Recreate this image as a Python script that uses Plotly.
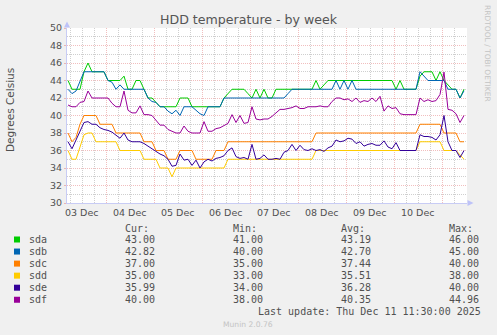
import plotly.graph_objects as go
from datetime import datetime, timedelta

# ---- data: HDD temperatures, one sample every 2 hours from Dec 3 05:00 ----
start_time = datetime(2025, 12, 3, 5, 0)
step_hours = 2

disks = ["sda", "sdb", "sdc", "sdd", "sde", "sdf"]
colors = ["#00CC00", "#0066B3", "#FF8000", "#FFCC00", "#330099", "#990099"]

sda = [44, 43, 43, 43, 45, 46, 45, 45, 45, 45,
       44, 44, 44, 44, 44.5, 43, 43, 44, 44, 43,
       42, 42, 41.5, 41, 41, 41, 41, 41, 42, 42,
       42, 41, 41, 41, 41, 41, 41, 41, 41, 42,
       42.5, 43, 43, 43, 43, 42.5, 42, 43, 42, 43,
       42, 42, 43, 43, 43, 43, 43, 43, 43, 43,
       43, 43, 44, 43, 43.5, 44, 44, 44, 44, 44,
       44, 44, 44, 44, 44, 44, 44, 44, 44, 44,
       44, 44, 43, 44, 43, 43, 43, 43, 44.5, 45,
       45, 45, 44, 45, 44, 43.5, 43, 43, 42, 43]

sdb = [43, 42.5, 42.8, 44, 45, 45, 45, 45, 45, 45,
       44, 43.8, 43, 43.5, 43, 43, 43, 43, 43, 43,
       42, 41.6, 41.5, 41, 41, 40.5, 40.2, 40.6, 40, 41,
       41, 41, 40.6, 40.2, 40, 41, 41, 41, 41, 42,
       42, 42, 42, 42, 42, 42, 42, 42, 42, 42,
       42, 42, 42, 42, 42, 42.5, 43, 43, 43, 43,
       43, 43, 43, 43, 43, 43, 43, 44, 43, 44,
       43, 44, 43, 43, 43, 43, 43, 43, 43, 43,
       43, 43, 43, 43, 43, 43, 43, 43, 45, 44.5,
       44, 44, 44, 44, 44, 43, 43, 43, 42, 42.82]

sdc = [38, 37, 37.5, 39, 40, 40, 40, 40, 39, 39,
       39, 39, 38, 38, 38, 38, 38, 38, 38, 37,
       37, 37, 36, 36, 36, 35, 35, 35, 36, 36,
       36, 36, 35, 35, 35, 35, 35, 36, 36, 36,
       37, 37, 37, 37, 37, 37, 37, 37, 37, 37,
       37, 37, 37, 37, 37, 37, 37, 37, 37, 37,
       37, 37, 38, 38, 38, 38, 38, 38, 38, 38,
       38, 38, 38, 38, 38, 38, 38, 38, 38, 38,
       38, 38, 38, 38, 38, 38, 38, 38, 39, 39,
       39, 39, 39, 39, 38, 38, 38, 38, 37, 37]

sdd = [36, 35, 35, 36.5, 37.8, 38, 38, 37, 37, 37,
       37, 37, 37, 36, 36, 36, 36, 36, 36, 35,
       35, 35, 35, 34, 34, 34, 33, 34, 34, 34,
       34, 34, 34, 34, 34, 34, 34, 34, 34, 34,
       35, 35, 35, 35, 35, 35, 35, 35, 35, 35,
       35, 35, 35, 35, 35, 35, 35, 35, 35, 35,
       35, 35, 36, 36, 36, 36, 36, 36, 36, 36,
       36, 36, 36, 36, 36, 36, 36, 36, 36, 36,
       36, 36, 36, 36, 36, 36, 36, 36, 37, 37,
       37, 37, 37, 37, 36, 36, 36, 36, 35.5, 35]

sde = [37, 36.2, 37.2, 38.2, 39.2, 39.3, 39, 39, 38.6, 38.4,
       38.3, 38.1, 37.8, 37.4, 38, 37.2, 37, 37, 37, 36.8,
       36.5, 36.2, 35.8, 35.6, 35.4, 35, 34.2, 34.3, 35.6, 34.9,
       35, 34.3, 34.9, 34, 34.7, 35, 34.8, 35.1, 35.2, 35.4,
       36, 36.3, 35.3, 35.1, 35.2, 35, 36.7, 35, 35.1, 35.5,
       35, 35, 35.1, 35, 35.8, 36, 36.7, 36, 36.6, 36.1,
       36, 36.2, 36, 36.1, 35.9, 36.3, 36.5, 37.2, 37, 37.1,
       37.4, 37.3, 36.8, 37, 36.5, 36.7, 36.8, 36.6, 36.6, 37.1,
       36.4, 36.2, 36.9, 36, 36, 36, 36, 36, 37.8, 37.6,
       37.6, 37.5, 37.2, 37.8, 40, 37, 36, 36, 35.2, 35.99]

sdf = [41.2, 41, 41, 41.5, 41.6, 42.8, 42, 42, 42, 42,
       42, 41.4, 41, 41, 42.8, 40.6, 40.3, 40.3, 41.1, 40.1,
       40.1, 40, 39.5, 38.9, 38.9, 38.4, 38.2, 38, 38, 38.8,
       38.2, 38, 38, 38, 39.3, 38.2, 38.2, 38.5, 38.6, 38.9,
       39.1, 40.1, 39.2, 40, 39.1, 39.2, 41, 39.6, 39.5, 39.6,
       39.6, 39.9, 40.3, 40.7, 40.7, 40.8, 40.9, 41.1, 40.8, 40.8,
       41, 41, 41, 41.1, 41, 41, 41.6, 42, 42, 41.8,
       41.9, 41.6, 42, 41.5, 41.7, 41.6, 42, 41.6, 42.2, 40.5,
       41.1, 40.8, 40.9, 40.2, 40.1, 40.1, 40.1, 40.1, 42, 41.6,
       41.8, 41.6, 41.7, 42.4, 44.96, 40.7, 40.6, 40.2, 39.2, 40]

series = [sda, sdb, sdc, sdd, sde, sdf]

# day labels, each written at the middle of its day
day_labels = ["03 Dec", "04 Dec", "05 Dec", "06 Dec",
              "07 Dec", "08 Dec", "09 Dec", "10 Dec"]
first_day = datetime(2025, 12, 3)

# summary table shown under the graph
cur_vals = [43.00, 42.82, 37.00, 35.00, 35.99, 40.00]
min_vals = [41.00, 40.00, 35.00, 33.00, 34.00, 38.00]
avg_vals = [43.19, 42.70, 37.44, 35.51, 36.28, 40.35]
max_vals = [46.00, 45.00, 40.00, 38.00, 40.00, 44.96]

last_update = "Last update: Thu Dec 11 11:30:00 2025"

times = [start_time + timedelta(hours=step_hours * i) for i in range(len(sda))]

# ---- geometry of the canvas ----
W, H = 497, 335
L, R, T, B = 67, 30, 28, 132
PW, PH = W - L - R, H - T - B


def px(x):
    return (x - L) / PW


def py(y):
    return (T + PH - y) / PH


axis_color = "#C8CCF5"
arrow_color = "#BDC2F8"
major_grid = "rgba(225,110,110,0.45)"
minor_grid = "rgba(140,140,140,0.42)"
text_color = "#505050"
mono = "DejaVu Sans Mono"
sans = "DejaVu Sans"

fig = go.Figure()
for name, color, vals in zip(disks, colors, series):
    fig.add_trace(go.Scatter(
        x=times, y=vals, mode="lines", name=name,
        line=dict(color=color, width=1), hoverinfo="skip",
    ))

x_start = datetime(2025, 12, 3, 4, 30)
x_end = datetime(2025, 12, 11, 12, 30)

fig.update_layout(
    width=W, height=H,
    margin=dict(l=L, r=R, t=T, b=B, pad=0),
    paper_bgcolor="#F0F0F0",
    plot_bgcolor="#FFFFFF",
    showlegend=False,
    xaxis=dict(
        type="date", range=[x_start, x_end],
        tick0="2025-12-03", dtick=86400000,
        showticklabels=False,
        showgrid=True, gridcolor=major_grid, griddash="1px,1px", gridwidth=1,
        minor=dict(tick0="2025-12-03", dtick=21600000, showgrid=True,
                   gridcolor=minor_grid, griddash="1px,1px", gridwidth=1),
        showline=True, linecolor=axis_color, linewidth=1,
        ticks="", zeroline=False,
    ),
    yaxis=dict(
        range=[30, 50], tick0=30, dtick=2,
        showgrid=True, gridcolor=major_grid, griddash="1px,1px", gridwidth=1,
        minor=dict(dtick=1, showgrid=True, gridcolor=minor_grid,
                   griddash="1px,1px", gridwidth=1),
        showline=True, linecolor=axis_color, linewidth=1,
        ticks="outside", ticklen=2, tickcolor=major_grid,
        zeroline=False,
        tickfont=dict(family=sans, size=9.5, color=text_color),
    ),
)

shapes = [
    # arrow heads at the ends of the axes
    dict(type="path", xref="paper", yref="paper", line=dict(width=0),
         fillcolor=arrow_color,
         path=f"M {px(64)} {py(27.5)} L {px(70)} {py(27.5)} L {px(67)} {py(21.5)} Z"),
    dict(type="path", xref="paper", yref="paper", line=dict(width=0),
         fillcolor=arrow_color,
         path=f"M {px(467.5)} {py(200)} L {px(467.5)} {py(206)} L {px(473.5)} {py(203)} Z"),
]

annotations = [
    dict(text="HDD temperature - by week", x=px(248.5), y=py(19),
         font=dict(family=sans, size=12.6, color="#555555")),
    dict(text="Degrees Celsius", x=px(10), y=py(110), textangle=-90,
         font=dict(family=sans, size=10.5, color=text_color)),
    dict(text="RRDTOOL / TOBI OETIKER", x=px(487.5), y=py(53.5), textangle=90,
         font=dict(family=sans, size=7.5, color="#C4C4C4")),
    dict(text="Munin 2.0.76", x=px(248), y=py(324.3),
         font=dict(family=sans, size=7.6, color="#C4C4C4")),
    dict(text=last_update, x=px(483), y=py(311.7), xanchor="right",
         font=dict(family=mono, size=10, color=text_color)),
]

# x axis labels at noon of each day
for i, lab in enumerate(day_labels):
    annotations.append(dict(text=lab, xref="x",
                            x=first_day + timedelta(days=i, hours=12),
                            y=py(212.3),
                            font=dict(family=sans, size=9.5, color=text_color)))

col_x = [122.5, 230.5, 339, 446.5]
for label, cx in zip(["Cur:", "Min:", "Avg:", "Max:"], col_x):
    annotations.append(dict(text=label, x=px(cx), y=py(228), xanchor="left",
                            font=dict(family=mono, size=10, color=text_color)))

row_y0, row_dy = 239.5, 12.05
for i, (name, color) in enumerate(zip(disks, colors)):
    ry = row_y0 + row_dy * i
    shapes.append(dict(type="rect", xref="paper", yref="paper",
                       x0=px(14), x1=px(20), y0=py(ry + 3), y1=py(ry - 3),
                       fillcolor=color, line=dict(width=0)))
    annotations.append(dict(text=name, x=px(26.5), y=py(ry), xanchor="left",
                            font=dict(family=mono, size=10, color=text_color)))
    for vals, cx in zip([cur_vals, min_vals, avg_vals, max_vals], col_x):
        annotations.append(dict(text=f"{vals[i]:.2f}", x=px(cx), y=py(ry),
                                xanchor="left",
                                font=dict(family=mono, size=10, color=text_color)))

for a in annotations:
    a.setdefault("xref", "paper")
    a.setdefault("yref", "paper")
    a.setdefault("showarrow", False)
    a.setdefault("xanchor", "center")
    a.setdefault("yanchor", "middle")

fig.update_layout(shapes=shapes, annotations=annotations)
fig.write_html("out.html")
